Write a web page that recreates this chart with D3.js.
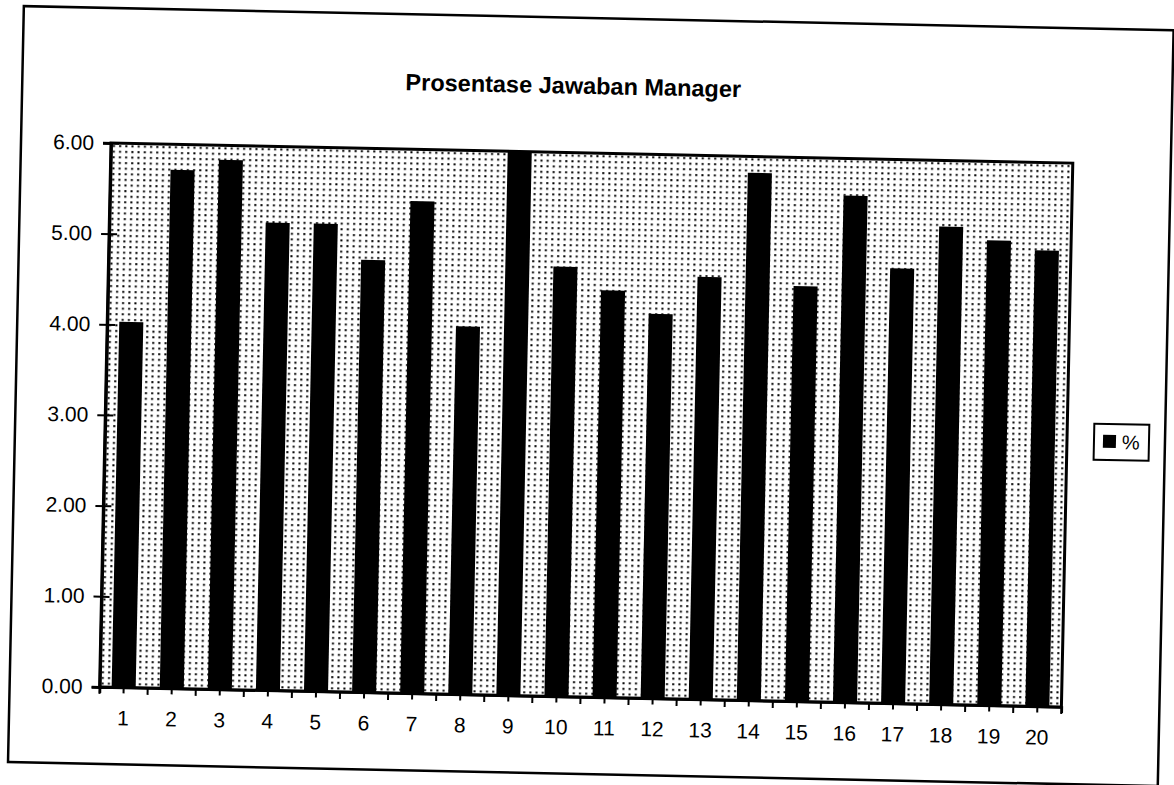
<!DOCTYPE html>
<html>
<head>
<meta charset="utf-8">
<script src="https://cdn.jsdelivr.net/npm/d3@7"></script>
<style>
  body { margin: 0; background: #fff; }
  svg { display: block; font-family: "Liberation Sans", Arial, sans-serif; }
</style>
</head>
<body>
<div id="chart"></div>
<script>
// data
var categories = ["1", "2", "3", "4", "5", "6", "7", "8", "9", "10",
                  "11", "12", "13", "14", "15", "16", "17", "18", "19", "20"];
var values = [4.03, 5.72, 5.84, 5.16, 5.16, 4.77, 5.43, 4.06, 6.00, 4.74,
              4.49, 4.24, 4.66, 5.82, 4.58, 5.59, 4.80, 5.27, 5.13, 5.03];
var yTicks = [0, 1, 2, 3, 4, 5, 6];
var seriesName = "%";
var chartTitle = "Prosentase Jawaban Manager";

var chart = {};

chart.draw = function(){
  var W = 1174, H = 785;
  var plot = {left: 111, top: 143, width: 962, height: 544};
  var skew = 1.2;   // the scan is tilted a little clockwise

  var svg = d3.select('#chart').append('svg')
        .attr('width', W)
        .attr('height', H);

  svg.append('rect').attr('width', W).attr('height', H).attr('fill', '#fff');

  // dotted plot area fill
  var pat = svg.append('defs').append('pattern')
        .attr('id', 'dots')
        .attr('patternUnits', 'userSpaceOnUse')
        .attr('width', 6.2)
        .attr('height', 5.6);
  pat.append('rect').attr('width', 6.2).attr('height', 5.6).attr('fill', '#fff');
  pat.append('rect').attr('x', 2).attr('y', 2).attr('width', 2).attr('height', 2).attr('fill', '#000');

  var root = svg.append('g')
        .attr('transform', 'rotate(' + skew + ',' + plot.left + ',' + plot.top + ')');

  // outer frame
  root.append('rect')
    .attr('x', 21).attr('y', 8)
    .attr('width', 1150).attr('height', 756)
    .attr('fill', 'none')
    .attr('stroke', '#000')
    .attr('stroke-width', 2.5);

  root.append('text')
    .attr('x', 572).attr('y', 84)
    .attr('text-anchor', 'middle')
    .attr('font-size', 23.5)
    .attr('font-weight', 'bold')
    .text(chartTitle);

  var g = root.append('g')
        .attr('transform', 'translate(' + plot.left + ',' + plot.top + ')');

  var x = d3.scaleBand()
        .domain(categories)
        .range([0, plot.width])
        .paddingInner(0.5)
        .paddingOuter(0.25);

  var y = d3.scaleLinear()
        .domain([0, 6])
        .range([plot.height, 0]);

  g.append('rect')
    .attr('width', plot.width)
    .attr('height', plot.height)
    .attr('fill', 'url(#dots)');

  g.selectAll('.bar')
    .data(values)
    .enter().append('rect')
    .attr('class', 'bar')
    .attr('x', function(d, i){ return x(categories[i]); })
    .attr('y', function(d){ return y(d); })
    .attr('width', x.bandwidth())
    .attr('height', function(d){ return plot.height - y(d); })
    .attr('fill', '#000');

  // plot border
  g.append('rect')
    .attr('width', plot.width)
    .attr('height', plot.height)
    .attr('fill', 'none')
    .attr('stroke', '#000')
    .attr('stroke-width', 3);

  // y axis, ticks cross the line
  var yAxis = d3.axisLeft(y)
        .tickValues(yTicks)
        .tickFormat(d3.format('.2f'))
        .tickSize(8)
        .tickPadding(9);
  var ya = g.append('g').call(yAxis);
  ya.select('.domain').attr('stroke-width', 3);
  ya.selectAll('.tick line').attr('x2', 8).attr('x1', -8).attr('stroke-width', 2);
  ya.selectAll('text').attr('font-size', 21).attr('fill', '#000');

  // x axis
  var xAxis = d3.axisBottom(x)
        .tickSize(6)
        .tickPadding(17);
  var xa = g.append('g')
        .attr('transform', 'translate(0,' + plot.height + ')')
        .call(xAxis);
  xa.select('.domain').attr('stroke-width', 2.5);
  xa.selectAll('.tick line').attr('stroke-width', 2);
  xa.selectAll('text').attr('font-size', 21).attr('fill', '#000');

  // extra ticks on the category boundaries
  var half = (x.step() - x.bandwidth()) / 2;
  var edges = categories.map(function(c){ return x(c) - half; });
  edges.push(x(categories[categories.length - 1]) + x.bandwidth() + half);
  xa.selectAll('.edge')
    .data(edges)
    .enter().append('line')
    .attr('class', 'edge')
    .attr('x1', function(d){ return d; })
    .attr('x2', function(d){ return d; })
    .attr('y1', 0)
    .attr('y2', 7)
    .attr('stroke', '#000')
    .attr('stroke-width', 2);

  // legend
  var lg = root.append('g').attr('transform', 'translate(1100,403)');
  lg.append('rect')
    .attr('width', 55).attr('height', 36)
    .attr('fill', '#fff')
    .attr('stroke', '#000')
    .attr('stroke-width', 2);
  lg.append('rect')
    .attr('x', 9).attr('y', 11)
    .attr('width', 13).attr('height', 13)
    .attr('fill', '#000');
  lg.append('text')
    .attr('x', 28).attr('y', 25)
    .attr('font-size', 20)
    .text(seriesName);
};

chart.draw();
</script>
</body>
</html>
